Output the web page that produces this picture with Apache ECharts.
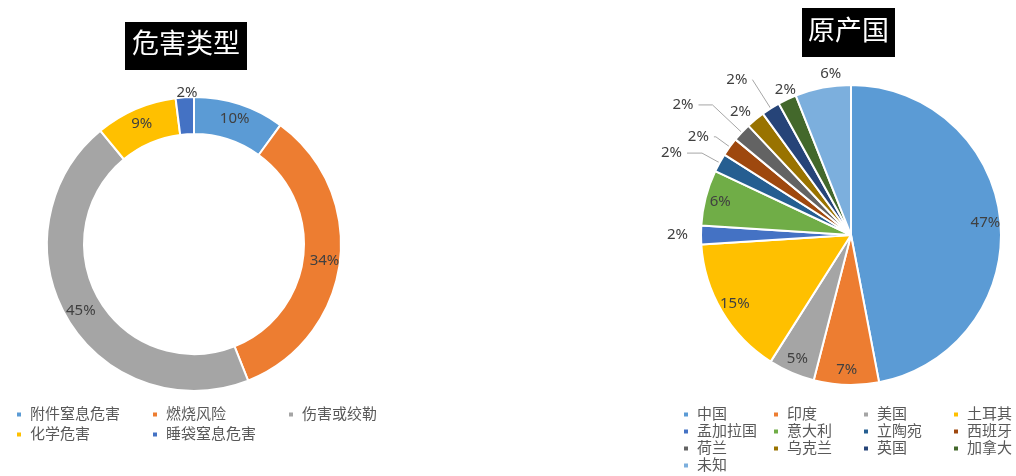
<!DOCTYPE html>
<html>
<head>
<meta charset="utf-8">
<script src="https://cdn.jsdelivr.net/npm/echarts@6/dist/echarts.min.js"></script>
<style>
  html, body { margin: 0; padding: 0; background: #fff; }
  #main { width: 1016px; height: 476px; }
</style>
</head>
<body>
<div id="main"></div>
<script>
// 危害类型
var hazardNames = ["附件窒息危害", "燃烧风险", "伤害或绞勒", "化学危害", "睡袋窒息危害"];
var hazardValues = [10, 34, 45, 9, 2];
var hazardColors = ["#5B9BD5", "#ED7D31", "#A5A5A5", "#FFC000", "#4472C4"];

// 原产国
var countryNames = ["中国", "印度", "美国", "土耳其", "孟加拉国", "意大利", "立陶宛", "西班牙", "荷兰", "乌克兰", "英国", "加拿大", "未知"];
var countryValues = [47, 7, 5, 15, 2, 6, 2, 2, 2, 2, 2, 2, 6];
var countryColors = ["#5B9BD5", "#ED7D31", "#A5A5A5", "#FFC000", "#4472C4", "#70AD47", "#255E91", "#9E480E", "#636363", "#997300", "#264478", "#43682B", "#7CAFDD"];

// 外部标签的引导线 [length, length2, 是否显示线]，null 表示标签在扇区内
var countryLabelLines = [null, null, null, null, [4, 4, false], null, [20, 15, true], [17, 2, true], [40, 14, true], [10, -7, false], [34, 0, true], [10, -18, false], [14, -26, false]];

var font = "'Noto Sans', 'Noto Sans CJK SC', sans-serif";
var labelColor = "#404040";

var myChart = echarts.init(document.getElementById("main"));

var hazardData = hazardNames.map(function (n, i) {
  var item = { name: n, value: hazardValues[i], itemStyle: { color: hazardColors[i] } };
  if (hazardValues[i] < 5) {
    item.label = { position: "outside" };
    item.labelLine = { show: false, length: 5, length2: -18 };
  }
  return item;
});

var countryData = countryNames.map(function (n, i) {
  return { name: n, value: countryValues[i], itemStyle: { color: countryColors[i] } };
});

// 标签层：透明的环，用来把内部标签放在靠外的位置
var countryLabelData = countryNames.map(function (n, i) {
  var item = { name: n, value: countryValues[i] };
  var ll = countryLabelLines[i];
  if (ll) {
    item.label = { position: "outside" };
    item.labelLine = { show: ll[2], length: ll[0], length2: ll[1] };
  }
  return item;
});

var option = {
  animation: false,
  title: [
    {
      text: "危害类型",
      left: 125,
      top: 22,
      backgroundColor: "#000",
      padding: [10, 7, 11, 7],
      textStyle: { color: "#fff", fontSize: 27, fontWeight: "normal", fontFamily: font }
    },
    {
      text: "原产国",
      left: 802,
      top: 8,
      backgroundColor: "#000",
      padding: [11, 6, 11, 6],
      textStyle: { color: "#fff", fontSize: 27, fontWeight: "normal", fontFamily: font }
    }
  ],
  legend: [
    {
      data: hazardNames,
      left: 10,
      top: 402,
      width: 420,
      icon: "rect",
      itemWidth: 6,
      itemHeight: 6,
      itemGap: 5,
      formatter: function (name) { return "{n|" + name + "}"; },
      textStyle: {
        color: "#595959",
        fontSize: 15,
        fontFamily: font,
        rich: { n: { width: 116, lineHeight: 20, fontSize: 15, color: "#595959", padding: [0, 0, 0, 3] } }
      }
    },
    {
      data: countryNames,
      left: 677,
      top: 402,
      width: 370,
      icon: "rect",
      itemWidth: 6,
      itemHeight: 6,
      itemGap: 2,
      formatter: function (name) { return "{n|" + name + "}"; },
      textStyle: {
        color: "#595959",
        fontSize: 15,
        fontFamily: font,
        rich: { n: { width: 73, lineHeight: 19, fontSize: 15, color: "#595959", padding: [0, 0, 0, 3] } }
      }
    }
  ],
  series: [
    {
      name: "危害类型",
      type: "pie",
      center: [194, 244],
      radius: [110, 147],
      startAngle: 90,
      avoidLabelOverlap: false,
      itemStyle: { borderColor: "#fff", borderWidth: 2 },
      label: {
        show: true,
        position: "inside",
        formatter: "{c}%",
        color: labelColor,
        fontSize: 15,
        fontFamily: font
      },
      emphasis: { disabled: true },
      data: hazardData
    },
    {
      name: "原产国",
      type: "pie",
      center: [851, 235],
      radius: 150,
      startAngle: 90,
      itemStyle: { borderColor: "#fff", borderWidth: 2 },
      label: { show: false },
      labelLine: { show: false },
      emphasis: { disabled: true },
      data: countryData
    },
    {
      name: "原产国标签",
      type: "pie",
      center: [851, 235],
      radius: [114, 150],
      startAngle: 90,
      silent: true,
      avoidLabelOverlap: false,
      itemStyle: { color: "rgba(0,0,0,0)", borderWidth: 0 },
      label: {
        show: true,
        position: "inside",
        formatter: "{c}%",
        color: labelColor,
        fontSize: 15,
        fontFamily: font
      },
      labelLine: { smooth: false, lineStyle: { color: "#A6A6A6", width: 1 } },
      emphasis: { disabled: true },
      data: countryLabelData
    }
  ]
};

myChart.setOption(option);
</script>
</body>
</html>
